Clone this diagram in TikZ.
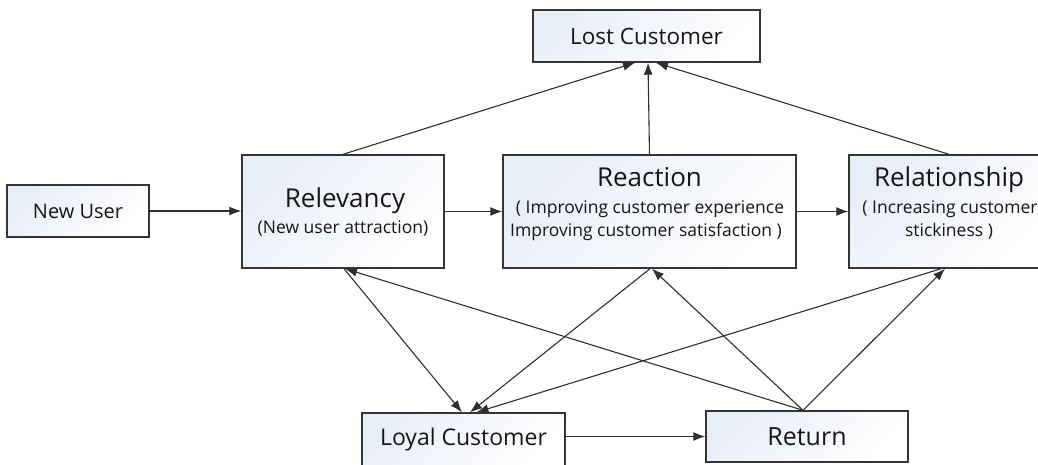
\documentclass[tikz,border=0pt]{standalone}
\usepackage{fontspec}
\setmainfont{Open Sans}
\usetikzlibrary{arrows.meta,calc}
\definecolor{boxtint}{HTML}{E8EEF8}
\definecolor{edgegray}{HTML}{353535}
\definecolor{ink}{HTML}{161616}
\definecolor{linegray}{HTML}{2E2E2E}
\begin{document}
\begin{tikzpicture}[x=1pt,y=-1pt,
  box/.style={draw=edgegray, line width=1.4pt, shading=axis, top color=boxtint, bottom color=white, shading angle=45, inner sep=0pt, text=ink, align=center},
  conn/.style={draw=linegray, line width=1.1pt, -{Latex[length=12pt,width=9pt]}},
  title/.style={font=\fontsize{26}{29}\selectfont, text=ink, inner sep=0pt, anchor=base},
  small/.style={font=\fontsize{23}{26}\selectfont},
  sub/.style={font=\fontsize{17.5}{22}\selectfont, text=ink, inner sep=0pt, anchor=base}]
\useasboundingbox (0,0) rectangle (1038,464);
\clip (0,0) rectangle (1038,464);

% boxes
\node[box, font=\fontsize{22.5}{26}\selectfont, minimum width=227pt, minimum height=52pt] (lost) at (646.5,36) {Lost Customer};
\node[box, font=\fontsize{20}{23}\selectfont, minimum width=142pt, minimum height=52pt] (newuser) at (78,211) {New User};
\node[box, minimum width=202pt, minimum height=113pt] (relevancy) at (343,211.5) {};
\node[box, minimum width=293pt, minimum height=113pt] (reaction) at (649.5,211.5) {};
\node[box, minimum width=200pt, minimum height=113pt] (relationship) at (949,211.5) {};
\node[box, small, minimum width=203pt, minimum height=53pt] (loyal) at (463.5,439.5) {Loyal Customer};
\node[box, font=\fontsize{25}{28}\selectfont, minimum width=202pt, minimum height=51pt] (return) at (807,436.5) {Return};

% texts inside the large boxes
\node[title] (relevancyT) at (345,207) {Relevancy};
\node[sub] (relevancyS) at (343,233) {(New user attraction)};
\node[title] (reactionT) at (649.5,186) {Reaction};
\node[sub] (reactionS1) at (650,213) {( Improving customer experience};
\node[sub] (reactionS2) at (646,236) {Improving customer satisfaction )};
\node[title] (relationshipT) at (949,186) {Relationship};
\node[sub] (relationshipS1) at (950,213) {( Increasing customer};
\node[sub] (relationshipS2) at (949,236) {stickiness )};

% connectors
\draw[conn] (newuser.east) -- (newuser.east -| relevancy.west);
\draw[conn] (relevancy.east) -- (reaction.west);
\draw[conn] (reaction.east) -- (relationship.west);
\draw[conn] (return.west -| loyal.east) -- (return.west);

\draw[conn] (relevancy.north) -- ([xshift=-11.5pt]lost.south);
\draw[conn] (reaction.north) -- ([xshift=1.5pt]lost.south);
\draw[conn] (relationship.north) -- ([xshift=9.5pt]lost.south);

\draw[conn] ([xshift=1pt]relevancy.south) -- ([xshift=-1.5pt]loyal.north);
\draw[conn] ([xshift=0.5pt]reaction.south) -- ([xshift=6.5pt]loyal.north);
\draw[conn] ([xshift=-8pt]relationship.south) -- ([xshift=13pt]loyal.north);

\draw[conn] ([xshift=-4pt]return.north) -- ([xshift=2pt]relevancy.south);
\draw[conn] ([xshift=-4pt]return.north) -- ([xshift=2.5pt]reaction.south);
\draw[conn] ([xshift=-4pt]return.north) -- ([xshift=-4pt]relationship.south);
\end{tikzpicture}
\end{document}
